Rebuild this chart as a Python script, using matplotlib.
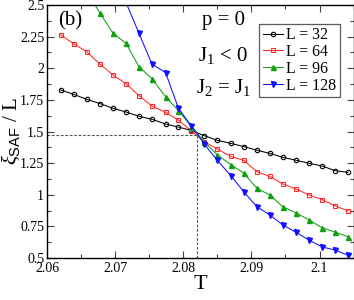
import matplotlib
matplotlib.use('Agg')
from matplotlib import pyplot as plt
from matplotlib.ticker import MultipleLocator, FixedLocator

plt.rcParams['font.family'] = 'Liberation Serif'
plt.rcParams['mathtext.fontset'] = 'custom'
plt.rcParams['mathtext.rm'] = 'Liberation Serif'
plt.rcParams['mathtext.it'] = 'Liberation Serif:italic'
plt.rcParams['mathtext.sf'] = 'Liberation Sans'

temps = [2.0620, 2.0639, 2.0658, 2.0678, 2.0697, 2.0716, 2.0735, 2.0754,
         2.0774, 2.0793, 2.0812, 2.0831, 2.0850, 2.0870, 2.0889, 2.0908,
         2.0927, 2.0946, 2.0966, 2.0985, 2.1004, 2.1023, 2.1042]

xi_32 = [1.828, 1.794, 1.755, 1.720, 1.683, 1.654, 1.620, 1.597, 1.559, 1.535,
         1.508, 1.467, 1.430, 1.406, 1.381, 1.352, 1.327, 1.296, 1.272, 1.249,
         1.227, 1.190, 1.177]
xi_64 = [2.265, 2.194, 2.131, 2.031, 1.947, 1.878, 1.783, 1.702, 1.652, 1.589,
         1.504, 1.420, 1.360, 1.303, 1.272, 1.182, 1.145, 1.085, 1.044, 0.998,
         0.961, 0.912, 0.872]
xi_96 = [2.950, 2.780, 2.610, 2.434, 2.276, 2.197, 2.012, 1.918, 1.775, 1.665,
         1.538, 1.420, 1.314, 1.238, 1.170, 1.051, 0.998, 0.906, 0.855, 0.800,
         0.738, 0.705, 0.668]
xi_128 = [3.400, 3.200, 3.000, 2.850, 2.700, 2.520, 2.276, 2.034, 1.966, 1.683,
          1.543, 1.400, 1.272, 1.150, 1.022, 0.906, 0.840, 0.762, 0.702, 0.640,
          0.587, 0.563, 0.521]

labels = ['L = 32', 'L = 64', 'L = 96', 'L = 128']
t_cross = 2.082
xi_cross = 1.472

fig = plt.figure(figsize=(3.54, 3.00), dpi=100)
ax = fig.add_axes([0.1328, 0.14, 0.866, 0.8433])

ax.plot(temps, xi_32, '-o', color='black', lw=0.75, ms=3.2, mfc='none', mew=0.8, label=labels[0])
ax.plot(temps, xi_64, '-s', color='#ff2a2a', lw=0.75, ms=2.8, mfc='none', mew=0.8, label=labels[1])
ax.plot(temps, xi_96, '-^', color='#12a012', lw=0.75, ms=3.6, label=labels[2])
ax.plot(temps, xi_128, '-v', color='#1010ff', lw=0.75, ms=3.6, label=labels[3])

ax.plot([2.06, t_cross], [xi_cross, xi_cross], '--', color='#555555', lw=0.8, dashes=(2.5, 1.5))
ax.plot([t_cross, t_cross], [0.5, xi_cross], '--', color='#555555', lw=0.8, dashes=(2.5, 1.5))

ax.set_xlim(2.06, 2.105)
ax.set_ylim(0.5, 2.5)
ax.xaxis.set_major_locator(FixedLocator([2.06, 2.07, 2.08, 2.09, 2.1]))
ax.set_xticklabels(['2.06', '2.07', '2.08', '2.09', '2.1'])
ax.xaxis.set_minor_locator(MultipleLocator(0.005))
ax.set_yticks([0.5, 0.75, 1, 1.25, 1.5, 1.75, 2, 2.25, 2.5])
ax.set_yticklabels(['0.5', '0.75', '1', '1.25', '1.5', '1.75', '2', '2.25', '2.5'])
ax.yaxis.set_minor_locator(MultipleLocator(0.125))
ax.tick_params(which='both', direction='in', top=True, right=True, labelsize=10,
               color='#444444', pad=2)
ax.tick_params(axis='x', which='both', pad=3)
ax.tick_params(which='major', length=5, width=0.8)
ax.tick_params(which='minor', length=3, width=0.8)
for s in ax.spines.values():
    s.set_linewidth(1.0)

ax.set_xlabel('T', fontsize=16, labelpad=0)
ax.set_ylabel(r'$\xi_{\mathsf{SAF}}$ / L', fontsize=15, labelpad=0)
ax.yaxis.set_label_coords(-0.082, 0.5)

ax.text(0.035, 0.975, '(b)', transform=ax.transAxes, fontsize=15, va='top', ha='left')
ax.text(0.575, 0.94, 'p = 0', transform=ax.transAxes, fontsize=15, va='center', ha='center')
ax.text(0.575, 0.80, r'J$_1$ < 0', transform=ax.transAxes, fontsize=15, va='center', ha='center')
ax.text(0.575, 0.675, r'J$_2$ = J$_1$', transform=ax.transAxes, fontsize=15, va='center', ha='center')

leg = ax.legend(loc='upper right', bbox_to_anchor=(0.955, 0.925), fontsize=11.5,
                frameon=True, fancybox=False, handlelength=1.3, handletextpad=0.2,
                borderpad=0.2, labelspacing=0.05, borderaxespad=0.0)
leg.get_frame().set_edgecolor('#333333')
leg.get_frame().set_linewidth(0.9)

fig.savefig('out.png', dpi=100)
